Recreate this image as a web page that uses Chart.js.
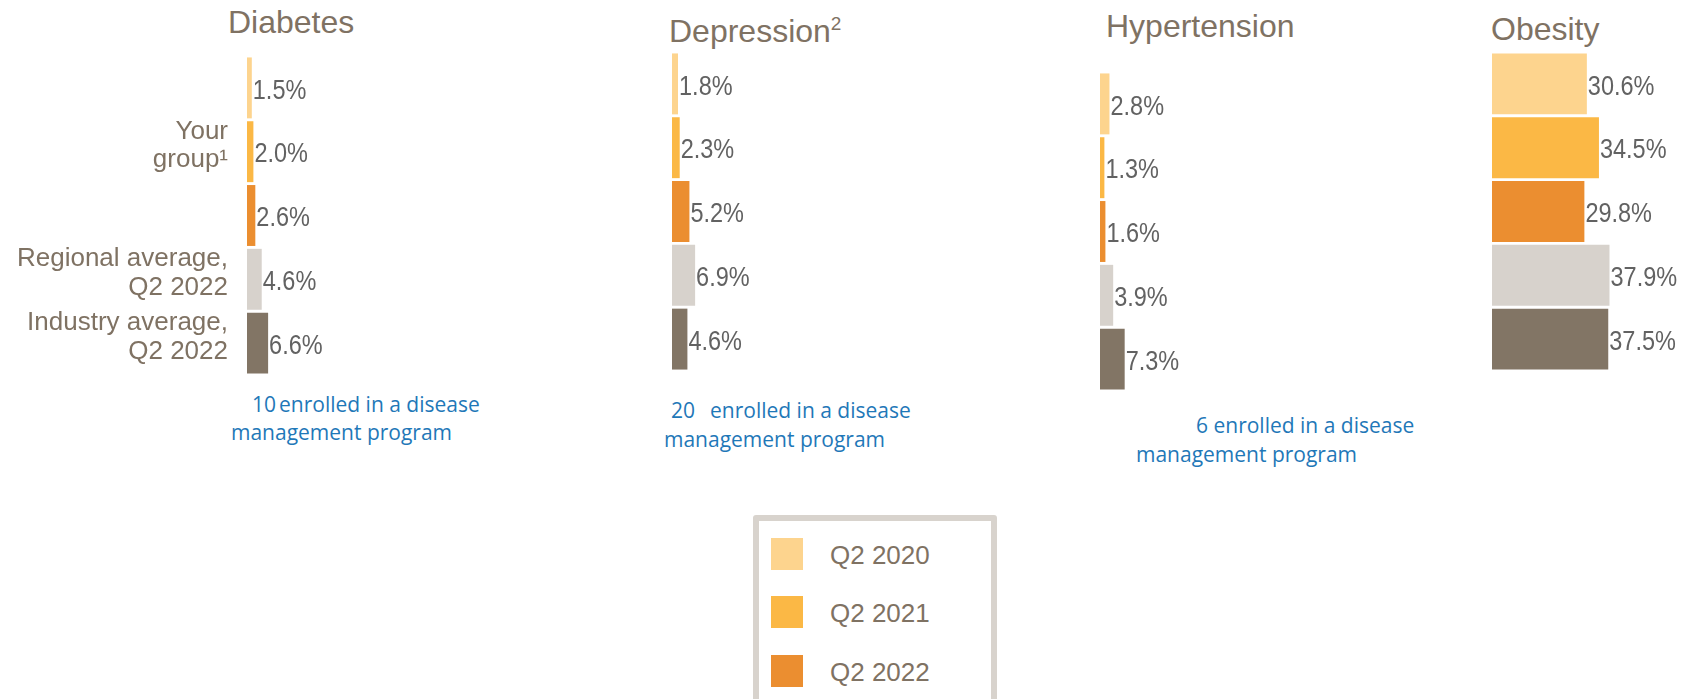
<!DOCTYPE html>
<html>
<head>
<meta charset="utf-8">
<script src="https://cdn.jsdelivr.net/npm/chart.js@4.4.1/dist/chart.umd.min.js"></script>
<style>
  body { margin: 0; background: #fff; }
  #page { position: relative; width: 1694px; height: 699px; overflow: hidden; font-family: "Liberation Sans", Arial, sans-serif; }
  .box { position: absolute; }
  .title { position: absolute; font-size: 32px; line-height: 32px; color: #7f7263; white-space: nowrap; }
  .title sup { font-size: 19px; vertical-align: 12px; line-height: 0; }
  .note { position: absolute; font-family: "Open Sans", sans-serif; font-size: 21px; line-height: 24px; color: #1f78b8; white-space: nowrap; }
  #legend { position: absolute; left: 753px; top: 515px; width: 232px; height: 200px; border: 6px solid #d8d3cd; border-radius: 3px; }
  .key { position: absolute; width: 32px; height: 32px; }
  .keytext { position: absolute; font-size: 26px; line-height: 30px; color: #7f7263; white-space: nowrap; }
</style>
</head>
<body>
<div id="page">
  <div class="title" style="left:228px; top:6px;">Diabetes</div>
  <div class="title" style="left:669px; top:15px;">Depression<sup>2</sup></div>
  <div class="title" style="left:1106px; top:10px;">Hypertension</div>
  <div class="title" style="left:1491px; top:13px;">Obesity</div>

  <div class="box" style="left:0px; top:56px; width:357px; height:319px;"><canvas id="diabetes"></canvas></div>
  <div class="box" style="left:672px; top:52px; width:110px; height:319px;"><canvas id="depression"></canvas></div>
  <div class="box" style="left:1100px; top:72px; width:110px; height:319px;"><canvas id="hypertension"></canvas></div>
  <div class="box" style="left:1492px; top:52px; width:200px; height:319px;"><canvas id="obesity"></canvas></div>

  <div id="notes"></div>
  <div id="legend"></div>
</div>

<script>
// rows of every panel, top to bottom
var categories = ['Q2 2020', 'Q2 2021', 'Q2 2022', 'Regional average, Q2 2022', 'Industry average, Q2 2022'];
// what the left axis shows (the first three rows share one label)
var rowLabels = ['', ['Your', 'group\u00b9'], '', ['Regional average,', 'Q2 2022'], ['Industry average,', 'Q2 2022']];

var diabetes = [1.5, 2.0, 2.6, 4.6, 6.6];
var depression = [1.8, 2.3, 5.2, 6.9, 4.6];
var hypertension = [2.8, 1.3, 1.6, 3.9, 7.3];
var obesity = [30.6, 34.5, 29.8, 37.9, 37.5];

// people enrolled in a disease management program
var enrolled = [10, 20, 6];

var legendLabels = ['Q2 2020', 'Q2 2021', 'Q2 2022'];
var rowColors = ['#fdd48e', '#fbb845', '#eb8e30', '#d7d2cc', '#827565'];

// the value labels in the picture are tall, so stretch them a bit
var valueLabels = {
  id: 'valueLabels',
  afterDatasetsDraw: function(chart) {
    var ctx = chart.ctx;
    var values = chart.data.datasets[0].data;
    ctx.save();
    ctx.font = '23.5px "Liberation Sans"';
    ctx.fillStyle = '#626262';
    ctx.textBaseline = 'middle';
    chart.getDatasetMeta(0).data.forEach(function(bar, i) {
      ctx.save();
      ctx.translate(bar.x + 1, bar.y + 3);
      ctx.scale(1, 1.18);
      ctx.fillText(values[i].toFixed(1) + '%', 0, 0);
      ctx.restore();
    });
    ctx.restore();
  }
};

function makeChart(id, values, maxX, withLabels) {
  var ctx = document.getElementById(id).getContext('2d');
  var yScale = {
    display: withLabels,
    grid: { display: false, drawTicks: false },
    border: { display: false },
    ticks: {
      autoSkip: false,
      padding: 19,
      labelOffset: -6,
      color: '#7f7263',
      font: { family: 'Liberation Sans', size: 26, lineHeight: 1.1 }
    }
  };
  if (withLabels) {
    yScale.afterFit = function(scale) {
      scale.width = 247;
      scale.paddingTop = 0;
      scale.paddingBottom = 0;
    };
  }
  return new Chart(ctx, {
    type: 'bar',
    data: {
      labels: withLabels ? rowLabels : categories,
      datasets: [{
        label: id,
        data: values,
        backgroundColor: rowColors,
        borderWidth: 0,
        barPercentage: 0.955,
        categoryPercentage: 1
      }]
    },
    options: {
      indexAxis: 'y',
      responsive: true,
      maintainAspectRatio: false,
      animation: false,
      layout: { padding: 0 },
      plugins: { legend: { display: false }, title: { display: false }, tooltip: { enabled: false } },
      scales: {
        x: { display: false, min: 0, max: maxX },
        y: yScale
      }
    },
    plugins: [valueLabels]
  });
}

makeChart('diabetes', diabetes, 110 / 3.2, true);
makeChart('depression', depression, 110 / 3.35, false);
makeChart('hypertension', hypertension, 110 / 3.38, false);
makeChart('obesity', obesity, 200 / 3.1, false);

// blue notes under the first three panels
var notes = document.getElementById('notes');
function addLine(html, left, top) {
  var d = document.createElement('div');
  d.className = 'note';
  d.style.left = left + 'px';
  d.style.top = top + 'px';
  d.innerHTML = html;
  notes.appendChild(d);
}
addLine(enrolled[0] + '<span style="margin-left:3px">enrolled in a disease</span>', 252, 392);
addLine('management program', 231, 420);
addLine(enrolled[1] + '<span style="margin-left:15px">enrolled in a disease</span>', 671, 398);
addLine('management program', 664, 427);
addLine(enrolled[2] + ' enrolled in a disease', 1196, 413);
addLine('management program', 1136, 442);

// legend box
var legend = document.getElementById('legend');
legendLabels.forEach(function(name, i) {
  var key = document.createElement('div');
  key.className = 'key';
  key.style.left = '12px';
  key.style.top = (17 + i * 58.4) + 'px';
  key.style.background = rowColors[i];
  legend.appendChild(key);
  var t = document.createElement('div');
  t.className = 'keytext';
  t.style.left = '71px';
  t.style.top = (19 + i * 58.4) + 'px';
  t.textContent = name;
  legend.appendChild(t);
});
</script>
</body>
</html>
